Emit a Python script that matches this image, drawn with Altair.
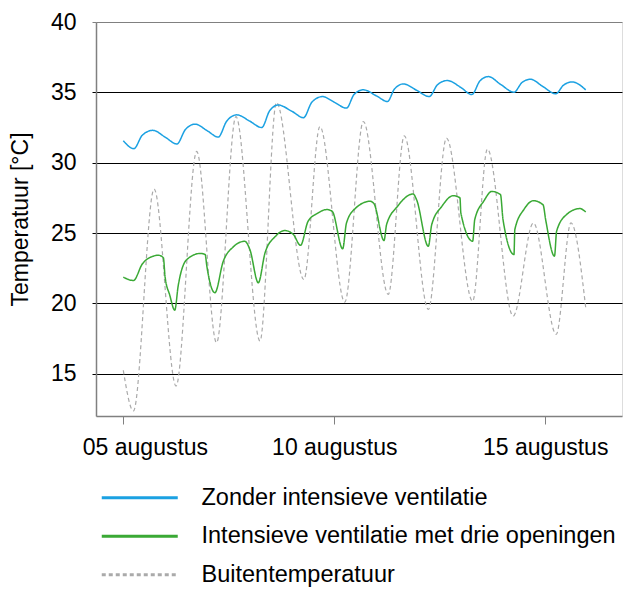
import altair as alt
import pandas as pd

# Days since 05 August 00:00
blue_days = [0.00, 0.25, 0.45, 0.70, 1.00, 1.27, 1.47, 1.70, 2.00, 2.25, 2.45, 2.69,
             3.00, 3.28, 3.47, 3.67, 4.00, 4.27, 4.47, 4.72, 5.00, 5.29, 5.47, 5.69,
             6.00, 6.26, 6.43, 6.64, 6.95, 7.25, 7.45, 7.68, 8.00, 8.26, 8.45, 8.65,
             8.95, 9.26, 9.45, 9.65, 9.95, 10.25, 10.43, 10.64, 10.96]
blue_vals = [31.56, 31.00, 31.95, 32.30, 31.80, 31.33, 32.35, 32.74, 32.25, 31.82, 32.95, 33.40,
             32.95, 32.50, 33.70, 34.10, 33.65, 33.20, 34.30, 34.70, 34.30, 33.88, 34.85, 35.18,
             34.75, 34.35, 35.25, 35.60, 35.15, 34.70, 35.55, 35.84, 35.35, 34.84, 35.80, 36.12,
             35.55, 35.01, 35.70, 35.93, 35.40, 34.90, 35.50, 35.74, 35.18]

green_days = [0.00, 0.24, 0.45, 0.70, 0.83, 0.95, 0.99, 1.10, 1.22, 1.30, 1.50, 1.82,
              1.94, 1.98, 2.17, 2.37, 2.60, 2.88, 3.00, 3.20, 3.36, 3.60, 3.83, 4.03,
              4.20, 4.38, 4.60, 4.82, 4.95, 5.20, 5.29, 5.50, 5.85, 5.94, 6.18, 6.24,
              6.50, 6.87, 6.95, 7.23, 7.31, 7.55, 7.82, 7.98, 8.00, 8.28, 8.33, 8.55,
              8.73, 8.94, 9.00, 9.26, 9.28, 9.50, 9.72, 9.95, 10.01, 10.22, 10.27, 10.50,
              10.82, 10.96]
green_vals = [21.87, 21.63, 22.80, 23.35, 23.43, 23.24, 21.90, 20.60, 19.52, 21.23, 23.10, 23.55,
              23.48, 22.65, 20.76, 23.00, 24.00, 24.42, 23.83, 21.47, 23.60, 24.75, 25.18, 24.90,
              24.13, 25.84, 26.40, 26.67, 26.55, 23.88, 25.72, 26.75, 27.26, 27.10, 24.47, 25.60,
              26.90, 27.78, 27.38, 24.06, 25.60, 26.90, 27.66, 27.50, 26.43, 24.42, 25.96, 27.30,
              27.96, 27.73, 25.96, 23.48, 25.25, 26.70, 27.30, 27.00, 25.96, 23.36, 25.13, 26.30,
              26.74, 26.50]

out_days = [0.00, 0.24, 0.73, 1.25, 1.74, 2.21, 2.67, 3.24, 3.63, 4.28, 4.66, 5.25,
            5.69, 6.28, 6.66, 7.23, 7.66, 8.28, 8.63, 9.24, 9.72, 10.26, 10.61, 10.96]
out_vals = [15.25, 12.36, 28.13, 14.13, 30.80, 17.21, 33.28, 17.33, 34.28, 21.70, 32.57, 20.09,
            32.93, 20.64, 31.91, 19.57, 31.75, 20.16, 30.97, 19.10, 25.72, 17.80, 25.72, 19.70]

series_names = ["Zonder intensieve ventilatie",
                "Intensieve ventilatie met drie openingen",
                "Buitentemperatuur"]
series_colors = ["#1ba1e2", "#3aa935", "#aaaaaa"]
series_dashes = [[1, 0], [1, 0], [4, 3]]

tick_days = [0, 5, 10]
tick_labels = ["05 augustus", "10 augustus", "15 augustus"]
y_ticks = [15, 20, 25, 30, 35, 40]

rows = []
for name, ds, vs in [(series_names[0], blue_days, blue_vals),
                     (series_names[1], green_days, green_vals),
                     (series_names[2], out_days, out_vals)]:
    for d, v in zip(ds, vs):
        rows.append({"dag": d, "temp": v, "reeks": name})
df = pd.DataFrame(rows)

label_expr = " : ".join(
    f"datum.value == {d} ? '{l}'" for d, l in zip(tick_days, tick_labels)) + " : ''"

FONT = "Liberation Sans"

x_enc = alt.X("dag:Q",
              scale=alt.Scale(domain=[-0.647, 11.82], nice=False, zero=False),
              axis=alt.Axis(values=tick_days, labelExpr=label_expr, grid=False,
                            title=None, tickSize=8, tickColor="#808080",
                            domainColor="#808080", domainWidth=1.5,
                            labelFontSize=23, labelPadding=12, labelFont=FONT,
                            labelColor="#000000", labelFlush=30, labelFlushOffset=41))
y_enc = alt.Y("temp:Q",
              scale=alt.Scale(domain=[12, 40], nice=False, zero=False),
              axis=alt.Axis(values=y_ticks, title="Temperatuur [°C]",
                            titleFontSize=23, titleFont=FONT, titleFontWeight="normal",
                            titleColor="#000000", titlePadding=18,
                            grid=True,
                            gridColor={"condition": {"test": "datum.value == 40", "value": "#808080"},
                                       "value": "#000000"},
                            gridWidth=1, tickSize=4,
                            tickColor={"condition": {"test": "datum.value == 40", "value": "#808080"},
                                       "value": "#000000"},
                            domainColor="#808080", domainWidth=1.5,
                            labelFontSize=23, labelPadding=16, labelFont=FONT,
                            labelColor="#000000"))

legend_kw = dict(title=None, orient="none", legendX=32, legendY=464,
                 direction="vertical", symbolType="M-4,0H4",
                 symbolSize=361, symbolStrokeWidth=3,
                 labelFontSize=23.5, labelFont=FONT, labelColor="#000000",
                 labelOffset=50, rowPadding=13.5, padding=0, labelLimit=600)

color_enc = alt.Color("reeks:N",
                      scale=alt.Scale(domain=series_names, range=series_colors),
                      legend=alt.Legend(**legend_kw))
dash_enc = alt.StrokeDash("reeks:N",
                          scale=alt.Scale(domain=series_names, range=series_dashes),
                          legend=alt.Legend(**legend_kw))

base = alt.Chart(df)
outside = base.transform_filter(alt.datum.reeks == series_names[2]).mark_line(
    interpolate="monotone", strokeWidth=1.2).encode(
    x=x_enc, y=y_enc, color=color_enc, strokeDash=dash_enc, order="dag:Q")
inside = base.transform_filter(alt.datum.reeks != series_names[2]).mark_line(
    interpolate="monotone", strokeWidth=1.5).encode(
    x=x_enc, y=y_enc, color=color_enc, strokeDash=dash_enc, order="dag:Q")

chart = alt.layer(outside, inside).properties(
    width=526, height=394,
    autosize=alt.AutoSizeParams(type="none"),
    padding={"left": 88, "top": 14, "right": 1, "bottom": 171},
).configure_view(strokeWidth=0).configure(font=FONT)

chart.save("out.html", embed_options={"renderer": "svg", "actions": False})
